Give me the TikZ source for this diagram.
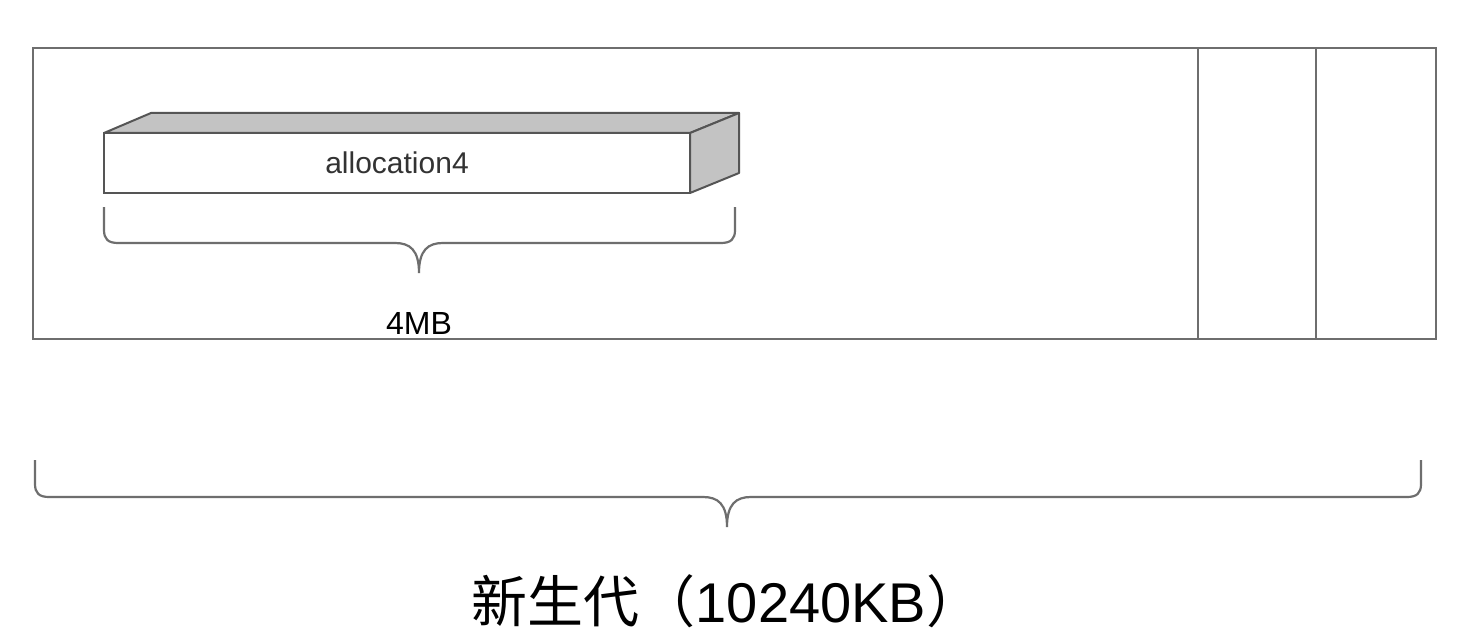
\documentclass[tikz,border=0pt]{standalone}
\usepackage{fontspec}
\setmainfont{Liberation Sans}
\newfontfamily\cjkfont{Noto Sans CJK SC}
\usetikzlibrary{positioning}
\definecolor{linegray}{HTML}{6E6E6E}
\definecolor{boxgray}{HTML}{555555}
\definecolor{facegray}{HTML}{C3C3C3}

\begin{document}
\begin{tikzpicture}[x=0.5pt,y=-0.5pt,
  region/.style={draw=linegray,line width=1.3pt,minimum height=145.5pt,
    inner sep=0pt,outer sep=0pt,anchor=north west},
  face/.style={draw=boxgray,fill=facegray,line width=1pt,line join=round},
  sizebrace/.style={draw=linegray,line width=1.1pt}]
\useasboundingbox[fill=white] (0,0) rectangle (1462,642);
% young generation: eden and the two survivor spaces
\node[region,minimum width=582.5pt] (eden) at (33,48) {};
\node[region,minimum width=59pt] (from) at (eden.north east) {};
\node[region,minimum width=60pt] (to) at (from.north east) {};
% the 4MB object
\node[draw=boxgray,fill=white,line width=1pt,minimum width=293pt,minimum height=30pt,
  inner sep=0pt,outer sep=0pt,anchor=north west,text=black!80,
  font=\fontsize{15}{18}\selectfont] (alloc) at (104,133) {allocation4};
\draw[face] (alloc.north west) -- ++(47,-20) -- ++(588,0) -- (alloc.north east) -- cycle;
\draw[face] (alloc.north east) -- ++(49,-20) -- ++(0,60) -- (alloc.south east) -- cycle;
% braces
\coordinate (allocL) at (104,207);
\coordinate (allocR) at (735,207);
\coordinate (allocTip) at (419,273);
\draw[sizebrace] (allocL) -- (104,230) .. controls (104,239) and (108,243) .. (118,243)
  -- (395,243) .. controls (410,243) and (419,250) .. (allocTip)
  .. controls (419,250) and (428,243) .. (443,243) -- (721,243)
  .. controls (731,243) and (735,239) .. (735,230) -- (allocR);
\coordinate (youngL) at (35,460);
\coordinate (youngR) at (1421,460);
\coordinate (youngTip) at (727,527);
\draw[sizebrace] (youngL) -- (35,484) .. controls (35,493) and (39,497) .. (49,497)
  -- (703,497) .. controls (718,497) and (727,504) .. (youngTip)
  .. controls (727,504) and (736,497) .. (751,497) -- (1407,497)
  .. controls (1417,497) and (1421,493) .. (1421,484) -- (youngR);
% labels
\node[anchor=base,font=\fontsize{16}{19}\selectfont] (allocsize) at (419,334) {4MB};
\node[anchor=base,font=\fontsize{28}{34}\selectfont] (youngsize) at (727,622)
  {{\cjkfont 新生代（}10240KB{\cjkfont ）}};
\end{tikzpicture}
\end{document}
